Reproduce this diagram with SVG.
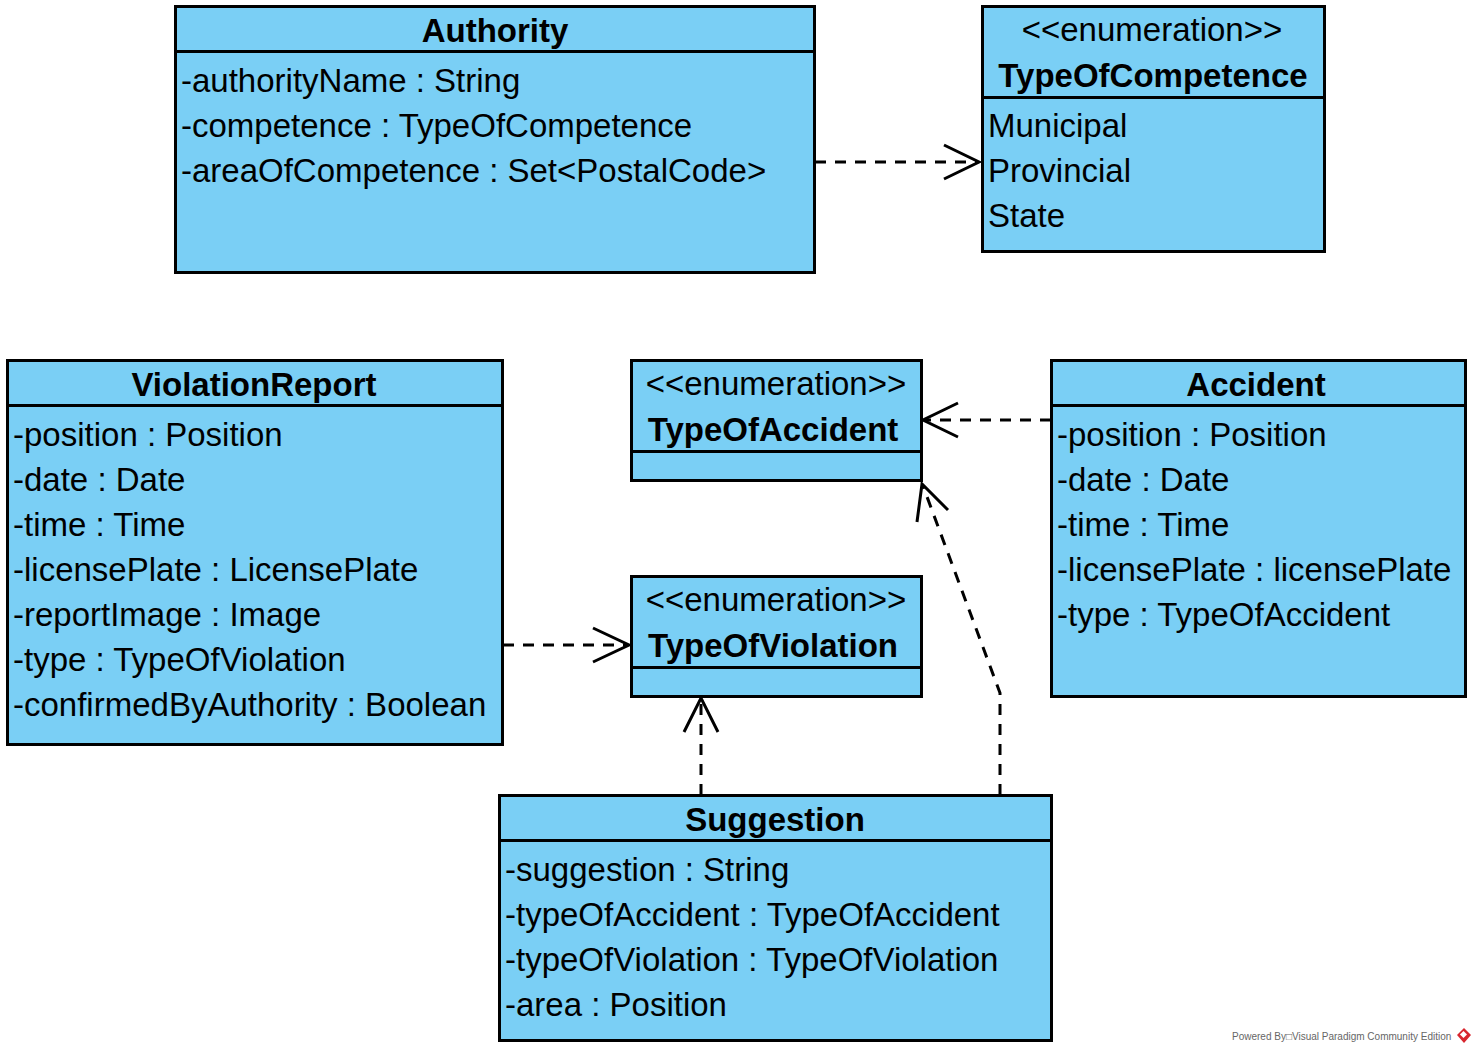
<svg xmlns="http://www.w3.org/2000/svg" width="1476" height="1053" viewBox="0 0 1476 1053">
<style>
.box{fill:#7ACFF5;stroke:#000;stroke-width:3}
.sep{stroke:#000;stroke-width:3}
.t{font-family:"Liberation Sans",Arial,sans-serif;font-size:33px;fill:#000}
.b{font-weight:bold;text-anchor:middle}
.c{text-anchor:middle}
.dash{fill:none;stroke:#000;stroke-width:3;stroke-dasharray:11,9}
.head{fill:none;stroke:#000;stroke-width:3}
.wm{font-family:"Liberation Sans",Arial,sans-serif;font-size:10px;fill:#666}
</style>
<rect width="1476" height="1053" fill="#fff"/>
<g id="connectors">
<path class="dash" d="M815,162 L978,162"/>
<path class="head" d="M944,145 L979,162 L944,179"/>
<path class="dash" d="M1051,420 L925,420"/>
<path class="head" d="M958,403 L923,420 L958,437"/>
<path class="dash" d="M503,645 L628,645"/>
<path class="head" d="M593,628 L629,645 L593,662"/>
<path class="dash" d="M701,795 L701,700"/>
<path class="head" d="M684,732 L701,698 L718,732"/>
<path class="dash" d="M1000,795 L1000,693 L923,486"/>
<path class="head" d="M917,522 L922,484 L948,510"/>
</g>
<g id="Authority">
<rect class="box" x="175.500" y="6.500" width="639" height="266"/>
<line class="sep" x1="175" y1="51.500" x2="815" y2="51.500"/>
<text class="t b" x="495" y="42">Authority</text>
<text class="t" x="181" y="92">-authorityName : String</text>
<text class="t" x="181" y="137">-competence : TypeOfCompetence</text>
<text class="t" x="181" y="182">-areaOfCompetence : Set&lt;PostalCode&gt;</text>
</g>
<g id="TypeOfCompetence">
<rect class="box" x="982.500" y="6.500" width="342" height="245"/>
<line class="sep" x1="982" y1="97.500" x2="1325" y2="97.500"/>
<text class="t c" x="1152" y="41">&lt;&lt;enumeration&gt;&gt;</text>
<text class="t b" x="1153" y="87">TypeOfCompetence</text>
<text class="t" x="988" y="137">Municipal</text>
<text class="t" x="988" y="182">Provincial</text>
<text class="t" x="988" y="227">State</text>
</g>
<g id="ViolationReport">
<rect class="box" x="7.500" y="360.500" width="495" height="384"/>
<line class="sep" x1="7" y1="405.500" x2="503" y2="405.500"/>
<text class="t b" x="254" y="396">ViolationReport</text>
<text class="t" x="13" y="446">-position : Position</text>
<text class="t" x="13" y="491">-date : Date</text>
<text class="t" x="13" y="536">-time : Time</text>
<text class="t" x="13" y="581">-licensePlate : LicensePlate</text>
<text class="t" x="13" y="626">-reportImage : Image</text>
<text class="t" x="13" y="671">-type : TypeOfViolation</text>
<text class="t" x="13" y="716">-confirmedByAuthority : Boolean</text>
</g>
<g id="TypeOfAccident">
<rect class="box" x="631.500" y="360.500" width="290" height="120"/>
<line class="sep" x1="631" y1="451.500" x2="922" y2="451.500"/>
<text class="t c" x="776" y="395">&lt;&lt;enumeration&gt;&gt;</text>
<text class="t b" x="773" y="441">TypeOfAccident</text>
</g>
<g id="Accident">
<rect class="box" x="1051.500" y="360.500" width="414" height="336"/>
<line class="sep" x1="1051" y1="405.500" x2="1466" y2="405.500"/>
<text class="t b" x="1256" y="396">Accident</text>
<text class="t" x="1057" y="446">-position : Position</text>
<text class="t" x="1057" y="491">-date : Date</text>
<text class="t" x="1057" y="536">-time : Time</text>
<text class="t" x="1057" y="581">-licensePlate : licensePlate</text>
<text class="t" x="1057" y="626">-type : TypeOfAccident</text>
</g>
<g id="TypeOfViolation">
<rect class="box" x="631.500" y="576.500" width="290" height="120"/>
<line class="sep" x1="631" y1="667.500" x2="922" y2="667.500"/>
<text class="t c" x="776" y="611">&lt;&lt;enumeration&gt;&gt;</text>
<text class="t b" x="773" y="657">TypeOfViolation</text>
</g>
<g id="Suggestion">
<rect class="box" x="499.500" y="795.500" width="552" height="245"/>
<line class="sep" x1="499" y1="840.500" x2="1052" y2="840.500"/>
<text class="t b" x="775" y="831">Suggestion</text>
<text class="t" x="505" y="881">-suggestion : String</text>
<text class="t" x="505" y="926">-typeOfAccident : TypeOfAccident</text>
<text class="t" x="505" y="971">-typeOfViolation : TypeOfViolation</text>
<text class="t" x="505" y="1016">-area : Position</text>
</g>
<g id="watermark">
<text class="wm" x="1232" y="1040">Powered By□Visual Paradigm Community Edition</text>
<polygon points="1464,1028 1471,1035 1464,1043 1457,1035" fill="#d8262e"/>
<rect x="1461" y="1032" width="5" height="5" fill="#fff" transform="rotate(45 1463.500 1034.500)"/>
</g>
</svg>
